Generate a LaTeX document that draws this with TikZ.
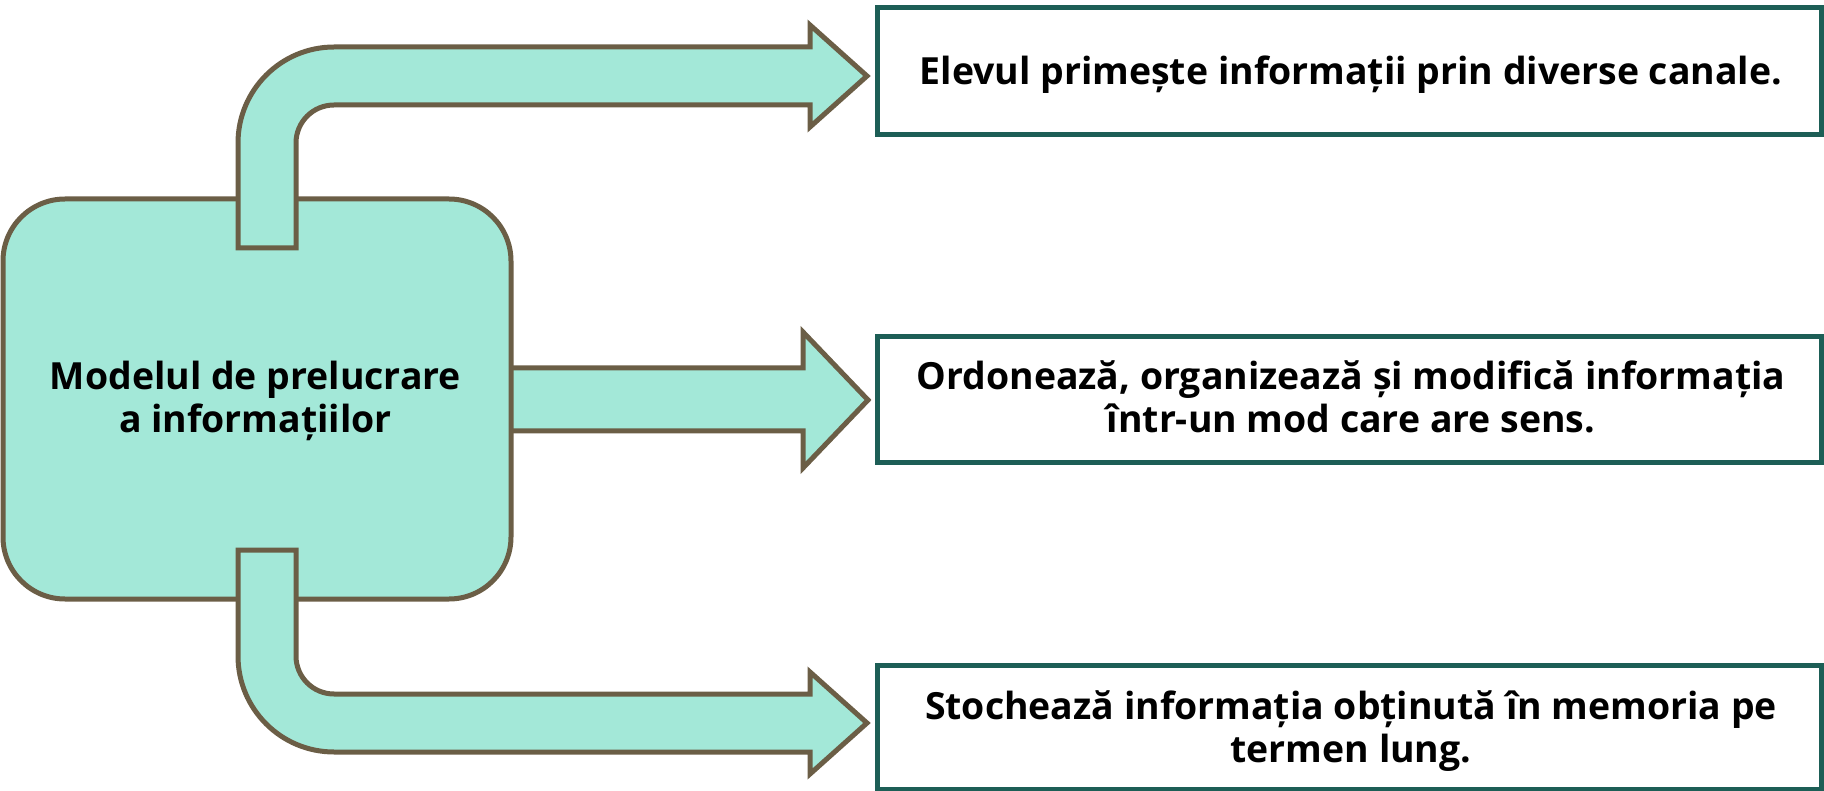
\documentclass[tikz,border=0pt]{standalone}
\usepackage{fontspec}
\setmainfont{Open Sans}
\definecolor{arrfill}{HTML}{A3E8D8}
\definecolor{arrline}{HTML}{6B5E46}
\definecolor{teal}{HTML}{1D5E56}
\begin{document}
\begin{tikzpicture}[x=1pt,y=-1pt,
  shapeline/.style={fill=arrfill,draw=arrline,line width=5pt,line join=miter},
  modelbox/.style={shapeline,rounded corners=62pt,minimum width=508pt,minimum height=400pt,inner sep=0pt},
  infobox/.style={draw=teal,line width=5pt,fill=white,minimum width=944pt,inner sep=0pt},
  txt/.style={anchor=base,inner sep=0pt,font=\fontsize{37.4}{43}\selectfont\bfseries}]
\useasboundingbox (0,0) rectangle (1824,791);
% middle arrow (behind the model box)
\draw[shapeline] (480,368) -- (803,368) -- (803,332) -- (868,400) -- (803,468) -- (803,431) -- (480,431) -- cycle;
% model box
\node[modelbox] (model) at (257,399) {};
\node[txt] (m1) at (255.5,390) {Modelul de prelucrare};
\node[txt] (m2) at (255.5,433) {a informațiilor};
% top arrow
\draw[shapeline] (238,248) -- (238,143)
  .. controls (238,90) and (281,47) .. (334,47)
  -- (810,47) -- (810,25) -- (867,76) -- (810,127) -- (810,105) -- (334,105)
  .. controls (313,105) and (296,122) .. (296,143)
  -- (296,248) -- cycle;
% bottom arrow
\draw[shapeline] (238,550) -- (238,656)
  .. controls (238,709) and (281,752) .. (334,752)
  -- (810,752) -- (810,774) -- (867,723) -- (810,672) -- (810,694) -- (334,694)
  .. controls (313,694) and (296,677) .. (296,656)
  -- (296,550) -- cycle;
% info boxes
\node[infobox,minimum height=127pt] (b1) at (1349,71.5) {};
\node[infobox,minimum height=126pt] (b2) at (1349,400) {};
\node[infobox,minimum height=124pt] (b3) at (1349,727) {};
\node[txt] (t1) at (1351,84.3) {Elevul primește informații prin diverse canale.};
\node[txt] (t2a) at (1351,390) {Ordonează, organizează și modifică informația};
\node[txt] (t2b) at (1351,432.5) {într-un mod care are sens.};
\node[txt] (t3a) at (1351,719.5) {Stochează informația obținută în memoria pe};
\node[txt] (t3b) at (1351,762) {termen lung.};
\end{tikzpicture}
\end{document}
